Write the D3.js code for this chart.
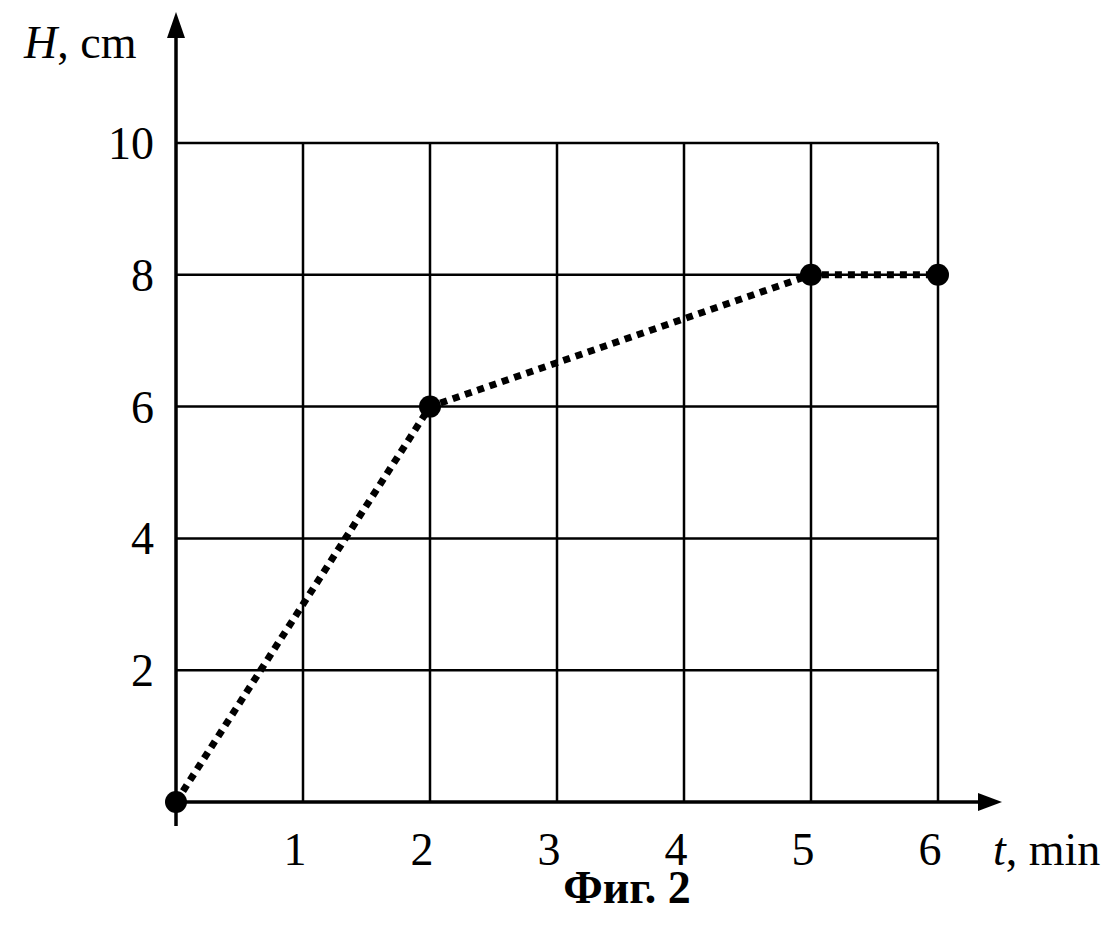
<!DOCTYPE html>
<html><head><meta charset="utf-8">
<script src="https://cdn.jsdelivr.net/npm/d3@7"></script>
<style>body{margin:0;background:#fff}text{font-family:"Liberation Serif","Times New Roman",serif;font-size:46px;fill:#000}</style>
</head><body><svg id="c" width="1116" height="938"></svg>
<script>
const tValues=[0,2,5,6];
const hValues=[0,6,8,8];
const xTickLabels=[1,2,3,4,5,6];
const yTickLabels=[2,4,6,8,10];
const svg=d3.select("#c");
const x=d3.scaleLinear().domain([0,6]).range([176,938]);
const y=d3.scaleLinear().domain([0,10]).range([802,143]);
const g=svg.append("g");
xTickLabels.forEach(v=>g.append("line").attr("x1",x(v)).attr("x2",x(v)).attr("y1",y(0)).attr("y2",y(10)).attr("stroke","#000").attr("stroke-width",2.5));
yTickLabels.forEach(v=>g.append("line").attr("x1",x(0)).attr("x2",x(6)).attr("y1",y(v)).attr("y2",y(v)).attr("stroke","#000").attr("stroke-width",2.5));
g.append("line").attr("x1",x(0)).attr("x2",985).attr("y1",y(0)).attr("y2",y(0)).attr("stroke","#000").attr("stroke-width",3.5);
g.append("line").attr("x1",x(0)).attr("x2",x(0)).attr("y1",826).attr("y2",30).attr("stroke","#000").attr("stroke-width",3.5);
g.append("path").attr("d",`M1002,${y(0)} L978,${y(0)-9} L978,${y(0)+9}Z`);
g.append("path").attr("d",`M${x(0)},12 L${x(0)-9},38 L${x(0)+9},38Z`);
xTickLabels.forEach(v=>g.append("text").attr("x",x(v)-8).attr("y",865).attr("text-anchor","middle").text(v));
yTickLabels.forEach(v=>g.append("text").attr("x",154).attr("y",y(v)+16).attr("text-anchor","end").text(v));
const hl=g.append("text").attr("x",24).attr("y",58);
hl.append("tspan").attr("font-style","italic").text("H");hl.append("tspan").text(", cm");
const tl=g.append("text").attr("x",993).attr("y",865);
tl.append("tspan").attr("font-style","italic").text("t");tl.append("tspan").text(", min");
g.append("text").attr("x",627).attr("y",903).attr("text-anchor","middle").attr("font-weight","bold").text("Фиг. 2");
const pts=tValues.map((t,i)=>[t,hValues[i]]);
g.append("path").attr("d",d3.line().x(d=>x(d[0])).y(d=>y(d[1]))(pts)).attr("fill","none").attr("stroke","#000").attr("stroke-width",7).attr("stroke-dasharray","7,6");
g.selectAll("circle").data(pts).join("circle").attr("cx",d=>x(d[0])).attr("cy",d=>y(d[1])).attr("r",11).attr("fill","#000");
</script></body></html>
